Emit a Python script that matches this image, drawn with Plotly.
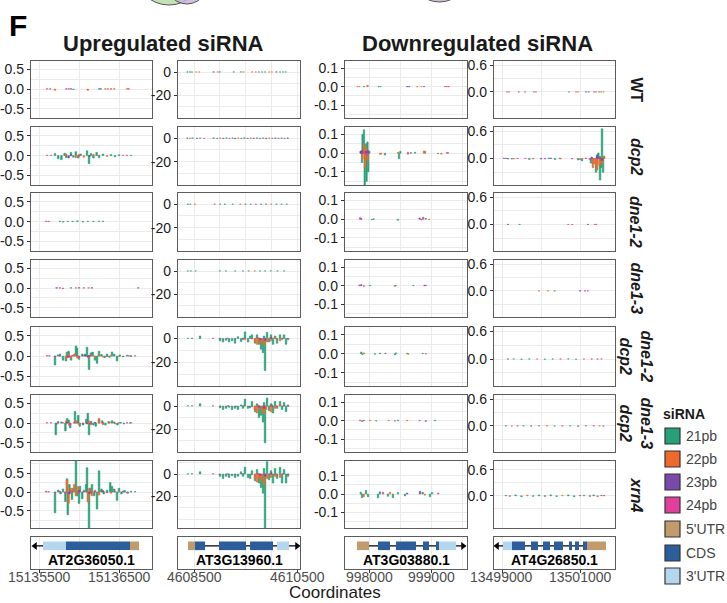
import plotly.graph_objects as go

W, H = 727, 603

# ---------------- data ----------------
SIZES = ["21pb", "22pb", "23pb", "24pb"]
SIZE_COLORS = ["#26a079", "#f0692c", "#7a4aaa", "#e0409c"]
FEATURES = ["5'UTR", "CDS", "3'UTR"]
FEATURE_COLORS = ["#c29b6c", "#2b5e9a", "#b4d6ee"]
GENOTYPES = ["<b>WT</b>", "<b><i>dcp2</i></b>", "<b><i>dne1-2</i></b>", "<b><i>dne1-3</i></b>",
             "<b><i>dne1-2</i></b><br><b><i>dcp2</i></b>", "<b><i>dne1-3</i></b><br><b><i>dcp2</i></b>",
             "<b><i>xrn4</i></b>"]
GENES = ["AT2G36050.1", "AT3G13960.1", "AT3G03880.1", "AT4G26850.1"]
GENE_ORIGIN = [15135000, 4608000, 997000, 13498000]
X_TICKS = [[15135500, 15136500], [4608500, 4610500], [998000, 999000], [13499000, 13501000]]
X_MINOR = [[15136000], [4609000, 4609500, 4610000], [998500, 999500], [13500000]]
Y_TICKS = [[-0.5, 0, 0.5], [-20, 0], [-0.1, 0, 0.1], [0, 0.6]]
Y_TICKTEXT = [["-0.5", "0.0", "0.5"], ["-20", "0"], ["-0.1", "0.0", "0.1"], ["0.0", "0.6"]]
Y_MINOR = [[-0.75, -0.25, 0.25, 0.75], [-40, -30, -10, 10], [-0.15, -0.05, 0.05], [-0.3, 0.3]]

# gene models: (start offset, end offset, feature index)
g1_model = [(550, 837, 2), (837, 1637, 1), (1637, 1750, 0)]
g2_model = [(383, 519, 0), (519, 714, 1), (985, 1510, 1), (1588, 2034, 1), (2112, 2345, 2)]
g3_model = [(790, 984, 0), (1129, 1323, 1), (1419, 1742, 1), (1855, 1952, 1), (2065, 2113, 1), (2113, 2387, 2)]
g4_model = [(1026, 1256, 2), (1256, 1590, 1), (1744, 1923, 1), (2051, 2231, 1), (2333, 2564, 1),
            (2718, 2795, 1), (2872, 2974, 1), (3077, 3179, 1), (3179, 3667, 0)]
g_line = [(450, 1750), (383, 2500), (790, 2500), (872, 3667)]
g_arrow = [(450, "triangle-left"), (2500, "triangle-right"), (2500, "triangle-right"), (872, "triangle-left")]

# siRNA bars per panel: (offset from gene origin, size class index, log fold value)
g1_wt = [(600,3,0.01),(640,3,0.01),(700,1,-0.03),(840,3,0.01),(870,3,0.01),(900,2,0.01),(930,0,-0.01),
         (1110,1,-0.03),(1250,0,0.01),(1270,2,0.01),(1330,1,0.01),(1360,1,0.01),(1400,3,0.01),(1440,1,0.01),
         (1600,1,0.01),(1620,3,0.01)]
g1_dcp2 = [(700,0,0.05),(740,0,-0.08),(780,0,-0.1),(820,0,0.06),(840,0,-0.05),(900,0,0.08),(930,0,-0.04),
           (960,0,0.1),(990,0,-0.06),(1020,0,0.04),(1100,0,0.12),(1125,0,-0.2),(1150,0,0.05),(1180,0,-0.06),
           (1220,0,0.08),(1250,0,-0.05),(1300,0,0.04),(1400,0,0.03),(1450,0,-0.03),(1500,0,0.02),(1650,0,0.01),
           (840,1,0.04),(960,1,-0.05),(1000,1,0.03),(1060,1,-0.04),(1180,1,0.03),(1350,1,-0.02),(1550,1,0.01),
           (870,2,-0.06),(900,2,0.02),(1130,2,-0.02),
           (600,3,0.01),(650,3,0.01),(1000,3,-0.02),(1250,3,0.01),(1600,3,0.01)]
g1_dne12 = [(590,3,0.01),(620,3,0.01),(760,0,0.01),(800,0,-0.01),(860,0,0.01),(920,0,0.01),(980,0,0.02),
            (1050,0,-0.01),(1110,0,0.01),(1180,0,0.01),(1250,0,0.01),(1300,0,0.01)]
g1_dne13 = [(720,2,0.01),(760,3,0.01),(800,3,-0.01),(900,0,0.01),(960,1,0.01),(1000,2,0.01),(1060,3,0.01),
            (1120,1,0.01),(1160,2,0.01),(1740,3,0.01)]
g1_dne12dcp2 = [(700,0,-0.22),(737,0,0.03),(762,0,0.05),(800,0,-0.1),(837,0,-0.12),(850,0,0.1),(870,0,0.12),
                (900,0,-0.1),(940,0,0.04),(962,0,0.25),(975,0,0.2),(1000,0,-0.08),(1040,0,0.05),(1075,0,0.05),
                (1100,0,0.22),(1125,0,-0.33),(1150,0,0.08),(1170,0,0.1),(1200,0,-0.1),(1225,0,-0.18),(1250,0,0.12),
                (1280,0,0.04),(1320,0,-0.04),(1350,0,0.05),(1380,0,-0.03),(1412,0,0.1),(1440,0,0.05),
                (1475,0,-0.12),(1510,0,0.03),(1550,0,-0.02),(1600,0,0.02),(1650,0,-0.01),(1700,0,0.01),
                (840,1,-0.06),(870,1,0.05),(900,1,-0.04),(950,1,0.06),(980,1,-0.05),(1120,1,-0.05),(1150,1,0.04),
                (1200,1,-0.03),(1250,1,0.03),(1300,1,-0.02),(1400,1,0.02),(1500,1,-0.01),
                (860,2,-0.03),(1080,2,0.02),(1110,2,-0.02),(1130,2,0.02),
                (600,3,0.01),(630,3,0.01),(700,3,-0.02),(760,3,0.01),(880,3,-0.03),(920,3,0.02),(1000,3,-0.02),
                (1050,3,0.01),(1350,3,-0.01),(1620,3,0.01),(1650,3,0.01)]
g1_dne13dcp2 = [(710,0,-0.3),(740,0,0.04),(780,0,0.03),(830,0,-0.2),(850,0,0.12),(870,0,0.08),(890,0,-0.12),
                (950,0,0.3),(970,0,0.05),(990,0,0.2),(1010,0,-0.08),(1050,0,-0.05),(1090,0,0.1),(1110,0,0.25),
                (1125,0,-0.3),(1150,0,0.05),(1180,0,-0.05),(1210,0,-0.08),(1250,0,0.1),(1290,0,0.06),
                (1330,0,-0.05),(1370,0,0.04),(1412,0,0.06),(1440,0,0.03),(1480,0,-0.05),(1520,0,0.02),
                (1560,0,-0.02),(1640,0,0.01),
                (840,1,0.05),(880,1,-0.06),(960,1,0.06),(1000,1,-0.04),(1120,1,0.06),(1150,1,-0.04),
                (1250,1,0.12),(1300,1,-0.04),(1380,1,0.03),(1450,1,-0.02),
                (850,2,0.02),(1100,2,-0.02),(1200,2,0.02),
                (600,3,0.01),(650,3,0.01),(720,3,-0.03),(800,3,0.01),(890,3,-0.04),(940,3,0.02),(1050,3,-0.02),
                (1150,3,-0.02),(1300,3,0.01),(1500,3,0.01),(1600,3,0.01),(1650,3,0.01)]
g1_xrn4 = [(700,0,-0.55),(740,0,0.05),(770,0,-0.05),(800,0,0.08),(830,0,-0.25),(850,0,0.35),(860,0,-0.6),
           (880,0,0.2),(912,0,-0.2),(925,0,0.1),(962,0,0.82),(975,0,-0.1),(1000,0,-0.3),(1012,0,0.15),
           (1040,0,-0.18),(1062,0,0.05),(1090,0,0.2),(1100,0,0.64),(1125,0,-0.95),(1140,0,0.1),(1162,0,0.2),
           (1190,0,-0.1),(1225,0,-0.45),(1250,0,0.56),(1280,0,0.08),(1310,0,-0.05),(1350,0,0.05),(1390,0,0.25),
           (1412,0,0.15),(1440,0,0.08),(1475,0,-0.22),(1500,0,0.1),(1530,0,-0.05),(1570,0,0.04),(1610,0,-0.03),
           (1650,0,0.02),(1700,0,0.01),
           (850,1,0.32),(870,1,-0.3),(900,1,0.1),(940,1,0.2),(960,1,-0.1),(990,1,0.15),(1110,1,-0.26),
           (1130,1,0.1),(1160,1,-0.1),(1200,1,0.05),(1250,1,-0.08),(1300,1,0.04),(1400,1,-0.03),(1500,1,0.02),
           (880,2,-0.05),(1000,2,0.04),(1130,2,-0.04),(1300,2,0.03),(1550,2,0.02),
           (590,3,0.02),(620,3,0.01),(700,3,-0.02),(760,3,0.02),(830,3,-0.03),(900,3,0.03),(1000,3,-0.02),
           (1060,3,0.02),(1150,3,-0.03),(1200,3,0.02),(1350,3,-0.02),(1450,3,0.02),(1600,3,-0.02)]

g2_wt = [(370,0,0.1),(420,0,0.1),(460,0,0.1),(540,1,0.1),(600,1,0.1),(880,2,0.1),(960,1,0.1),(1000,0,0.1),
         (1270,0,0.1),(1410,0,0.1),(1460,1,0.1),(1630,1,0.1),(1700,1,0.1),(1760,0,0.1),(1820,0,0.1),
         (1880,0,0.1),(1960,1,0.1),(2010,1,0.1),(2100,2,0.1),(2170,0,0.1),(2230,0,0.1),(2280,0,0.1)]
g2_dcp2 = [(370,0,0.2),(420,1,-0.2),(470,0,0.3),(560,2,-0.2),(620,0,0.2),(700,3,-0.2),(880,2,0.2),(950,0,-0.3),
           (1010,1,0.2),(1070,2,-0.2),(1130,0,0.3),(1190,3,-0.2),(1250,0,0.2),(1300,2,-0.3),(1360,1,0.2),
           (1420,0,-0.2),(1480,2,0.3),(1540,0,-0.2),(1600,1,0.2),(1660,2,-0.2),(1720,0,0.3),(1780,3,-0.2),
           (1840,0,0.2),(1900,2,-0.3),(1960,1,0.2),(2020,0,-0.2),(2080,2,0.2),(2140,0,-0.2),(2200,3,0.2),
           (2260,0,-0.2),(2320,2,0.2)]
g2_dne12 = [(380,0,0.1),(430,0,0.1),(520,1,0.1),(900,3,0.1),(1010,0,0.1),(1100,0,0.1),(1250,0,0.1),
            (1400,1,0.1),(1500,0,0.1),(1600,0,0.1),(1700,3,0.1),(1800,0,0.1),(1900,0,0.1),(2000,1,0.1),
            (2100,0,0.1),(2200,0,0.1),(2300,0,0.1)]
g2_dne13 = [(380,0,0.1),(440,0,0.1),(530,0,0.1),(1000,0,0.1),(1120,0,0.1),(1300,0,0.1),(1450,0,0.1),
            (1560,0,0.1),(1680,1,0.1),(1780,0,0.1),(1880,0,0.1),(1990,0,0.1),(2120,0,0.1),(2250,0,0.1)]
g2_dne12dcp2 = [(383,0,0.2),(461,0,0.3),(617,0,2),(1005,0,-2),(1063,0,-3),(1121,0,-1.5),(1180,0,-3),
                (1238,0,-2),(1296,0,-4),(1354,0,1.5),(1413,0,-2.5),(1452,0,-1),(1490,0,5.5),(1549,0,-3),
                (1588,0,2),(1626,0,3),(1685,0,-4),(1723,0,3),(1762,0,-5),(1801,0,-9),(1840,0,-12),(1859,0,2),
                (1879,0,-27),(1918,0,5),(1956,0,-3),(1995,0,3),(2034,0,-5),(2073,0,2),(2112,0,-4),(2170,0,3),
                (2209,0,-1),(2248,0,3),(2287,0,-5),(2325,0,-1),
                (1490,1,-1),(1685,1,-3),(1723,1,-5),(1762,1,-2),(1801,1,-4),(1859,1,-6),(1918,1,-3),
                (1995,1,-2),(2073,1,1),(2170,1,-2),
                (1780,2,-1),(1880,2,-1.5),(2000,2,1),
                (869,3,0.2),(1000,3,-0.3),(1150,3,0.3),(1300,3,-0.3),(1450,3,0.3),(1620,3,-0.5),(1740,3,0.5),
                (1860,3,-0.5),(1980,3,0.4),(2100,3,-0.3),(2230,3,0.3),(2330,3,-0.2)]
g2_dne13dcp2 = [(383,0,0.2),(461,0,0.3),(617,0,2),(1005,0,-1.5),(1063,0,-3),(1121,0,-2),(1180,0,-1),
                (1238,0,-3),(1296,0,-2),(1354,0,-3),(1413,0,1),(1452,0,-2),(1490,0,6),(1549,0,-2),
                (1588,0,-1.5),(1626,0,4),(1685,0,-5),(1723,0,2),(1762,0,-10),(1801,0,-8),(1840,0,-14),
                (1859,0,3),(1879,0,-32),(1918,0,7),(1956,0,-4),(1995,0,2),(2034,0,-6),(2073,0,4),(2112,0,-2),
                (2170,0,4),(2209,0,-3),(2248,0,3),(2287,0,-5),(2325,0,1),
                (1680,1,-3),(1720,1,-6),(1760,1,-2),(1820,1,-4),(1859,1,-7),(1900,1,-3),(1995,1,-5),
                (2073,1,-2),(2170,1,1),
                (1760,2,-1),(1860,2,-2),(2010,2,1),
                (869,3,0.2),(1010,3,-0.3),(1160,3,0.3),(1310,3,-0.3),(1460,3,0.3),(1630,3,-0.5),(1750,3,0.5),
                (1870,3,-0.5),(1990,3,0.4),(2110,3,-0.3),(2240,3,0.3),(2330,3,-0.2)]
g2_xrn4 = [(383,0,0.2),(461,0,0.3),(617,0,2),(1005,0,-2),(1063,0,-4),(1121,0,-2),(1180,0,-3),(1238,0,-1.5),
           (1296,0,-3),(1354,0,-2),(1413,0,2),(1452,0,-2),(1490,0,6),(1549,0,-3),(1588,0,-4),(1626,0,3),
           (1685,0,-6),(1723,0,4),(1762,0,-8),(1801,0,-12),(1840,0,-17),(1859,0,5),(1879,0,-48),(1918,0,11),
           (1956,0,-5),(1995,0,3),(2034,0,-8),(2073,0,5),(2112,0,-4),(2170,0,6),(2209,0,-8),(2248,0,4),
           (2287,0,-8),(2325,0,-2),
           (1685,1,-4),(1723,1,-7),(1762,1,-3),(1801,1,-6),(1859,1,-10),(1918,1,-4),(1995,1,-3),(2073,1,-2),
           (2170,1,-3),
           (1780,2,-1),(1880,2,-2),(2000,2,1),
           (869,3,0.3),(1000,3,-0.3),(1150,3,0.3),(1300,3,-0.4),(1450,3,0.3),(1620,3,-0.5),(1740,3,0.5),
           (1860,3,-0.6),(1980,3,0.5),(2100,3,-0.4),(2230,3,0.3),(2330,3,-0.3)]

g3_wt = [(800,1,0.001),(830,1,0.001),(900,0,0.001),(960,1,0.008),(1140,0,0.001),(1170,0,0.001),(1600,2,0.001),
         (1630,2,0.001),(1760,1,0.001),(1830,1,0.001),(1870,2,0.001),(2210,3,0.001),(2240,3,0.001),(2270,3,0.001)]
g3_dcp2 = [(850,0,0.01),(871,0,-0.05),(880,0,0.1),(903,0,0.125),(915,0,-0.17),(935,0,0.05),(945,0,-0.15),
           (960,0,0.06),(972,0,-0.1),(990,0,0.01),(1242,0,-0.01),(1468,0,-0.03),(1490,0,0.01),(1613,0,-0.005),
           (1726,0,0.005),(1887,0,0.01),(2097,0,-0.003),
           (880,1,-0.03),(903,1,0.05),(920,1,-0.08),(940,1,0.03),(960,1,-0.04),(1161,1,-0.005),(1180,1,-0.005),
           (1452,1,0.005),(1613,1,0.005),(1870,1,0.012),(2150,1,-0.005),
           (850,2,0.01),(870,2,0.015),(935,2,0.01),(968,2,0.015),(1660,2,0.003),
           (900,3,0.01),(950,3,-0.01),(2240,3,0.003),(2260,3,0.003)]
g3_dne12 = [(840,3,0.008),(860,2,0.004),(1030,0,-0.003),(1060,0,0.002),(1450,0,-0.006),(1800,2,0.006),
            (1830,3,-0.004),(1860,3,0.01),(1900,0,0.004),(1950,1,-0.003)]
g3_dne13 = [(830,3,0.004),(860,2,0.006),(900,3,-0.003),(1000,0,0.002),(1400,0,-0.003),(1420,1,0.002),
            (1700,0,0.002),(1880,2,0.003),(1900,3,0.003)]
g3_dne12dcp2 = [(860,0,0.008),(880,0,-0.004),(900,1,0.004),(1080,0,-0.003),(1161,0,0.003),(1250,2,0.002),
                (1403,0,-0.006),(1420,0,0.004),(1600,0,0.002),(1620,1,-0.003),(1850,0,0.002),(1900,3,-0.002)]
g3_dne13dcp2 = [(840,1,0.004),(870,3,-0.004),(900,0,0.003),(1000,1,0.002),(1100,0,-0.002),(1300,1,0.002),
                (1403,3,-0.002),(1450,0,0.003),(1600,1,0.003),(1800,3,0.002),(1900,2,-0.003),(2050,0,0.003)]
g3_xrn4 = [(850,0,0.01),(871,0,-0.02),(900,1,-0.015),(935,0,0.02),(968,0,-0.015),(1129,0,-0.02),(1160,0,0.012),
           (1210,3,0.01),(1290,0,-0.012),(1323,1,0.01),(1370,0,-0.02),(1452,0,0.008),(1565,0,-0.01),
           (1600,2,0.005),(1807,2,0.015),(1850,0,0.01),(1887,1,-0.006),(1968,0,-0.015),(2000,0,0.008),
           (2100,3,0.005)]

g4_wt = [(1130,3,0.002),(1180,3,0.002),(1430,3,0.002),(1590,3,0.002),(1820,3,0.002),(1870,3,0.002),
         (2720,0,0.002),(2900,1,0.002),(2950,1,0.002),(3150,2,0.002),(3220,2,0.002),(3360,3,0.002),
         (3410,3,0.002),(3490,0,0.002),(3540,1,0.002),(3600,1,0.002)]
g4_dcp2 = [(1100,0,0.005),(1250,0,-0.01),(1700,0,-0.02),(2200,0,0.01),(2360,0,-0.02),(2480,0,0.01),
           (2950,0,-0.03),(3050,0,-0.05),(3280,0,-0.1),(3330,0,-0.12),(3410,0,-0.3),(3440,0,0.08),
           (3470,0,0.12),(3513,0,-0.47),(3540,0,-0.2),(3564,0,0.65),(3590,0,-0.3),(3620,0,0.05),
           (1300,1,-0.01),(1800,1,-0.01),(2500,1,-0.01),(3000,1,-0.02),(3330,1,-0.2),(3385,1,-0.12),
           (3440,1,-0.25),(3500,1,-0.15),(3564,1,-0.1),(3600,1,0.05),
           (1150,2,-0.01),(2000,2,-0.01),(2250,2,0.01),(3300,2,0.03),(3440,2,0.06),(3513,2,0.04),(3560,2,-0.04),
           (1050,3,0.01),(1400,3,0.005),(1600,3,0.005),(2100,3,-0.01),(2800,3,-0.01),(3150,3,0.01),(3250,3,-0.02)]
g4_dne12 = [(1150,2,0.003),(1450,0,0.003),(2700,3,0.003),(2800,3,-0.003),(3200,2,0.003),(3380,3,0.003),
            (3420,1,0.003)]
g4_dne13 = [(1950,1,0.003),(2180,1,0.003),(2350,0,0.003),(3000,2,0.003),(3130,3,0.003),(3200,3,0.003)]
g4_dne12dcp2 = [(1150,2,0.003),(1300,0,0.003),(1500,0,-0.005),(1700,0,0.003),(1900,1,0.003),(2100,0,-0.004),
                (2300,0,0.003),(2500,3,0.003),(2700,0,0.005),(2900,0,-0.003),(3100,3,0.003),(3300,3,0.004),
                (3450,3,0.004),(3550,1,0.003)]
g4_dne13dcp2 = [(1100,0,0.003),(1250,1,-0.003),(1400,3,0.003),(1550,0,0.003),(1750,2,-0.003),(1950,0,0.003),
                (2150,1,0.004),(2350,0,-0.003),(2550,3,0.003),(2750,0,0.003),(2950,2,-0.004),(3150,0,0.003),
                (3350,3,0.005),(3500,1,0.003),(3600,0,-0.003)]
g4_xrn4 = [(1100,0,0.01),(1200,3,-0.01),(1350,0,0.02),(1500,0,-0.02),(1650,1,0.015),(1800,0,-0.01),
           (1950,0,0.02),(2100,2,-0.01),(2250,0,0.02),(2400,0,-0.015),(2550,1,0.01),(2700,0,0.02),
           (2850,0,-0.02),(3000,3,0.01),(3100,0,0.015),(3250,2,-0.01),(3350,0,0.02),(3450,1,-0.02),
           (3550,0,0.01),(3620,3,0.01)]

PANELS = [
    [g1_wt, g2_wt, g3_wt, g4_wt],
    [g1_dcp2, g2_dcp2, g3_dcp2, g4_dcp2],
    [g1_dne12, g2_dne12, g3_dne12, g4_dne12],
    [g1_dne13, g2_dne13, g3_dne13, g4_dne13],
    [g1_dne12dcp2, g2_dne12dcp2, g3_dne12dcp2, g4_dne12dcp2],
    [g1_dne13dcp2, g2_dne13dcp2, g3_dne13dcp2, g4_dne13dcp2],
    [g1_xrn4, g2_xrn4, g3_xrn4, g4_xrn4],
]
MODELS = [g1_model, g2_model, g3_model, g4_model]

# ---------------- layout geometry ----------------
X_RANGE = [[15135400, 15136912], [4608189, 4610558], [997597, 999565], [13498795, 13501897]]
Y_RANGE = [[-0.74, 0.72], [-40, 9.6], [-0.17, 0.14], [-0.58, 0.69]]
Y_RANGE_LAST = [[-0.95, 0.82], [-48, 11.6], [-0.185, 0.18], [-0.74, 0.8]]
BAR_WIDTH = [20, 30, 22, 40]
COL_PX = [(31, 152), (178, 300), (345, 467), (494, 615)]
ROW_PX = [(61, 118), (127, 185), (193, 251), (260, 317), (327, 386), (395, 452), (461, 528), (537, 569)]

FONT = "Liberation Sans, Arial, sans-serif"
GRID = "#ebebeb"
BORDER = "#5c5c5c"


def fx(px):
    return px / W


def fy(px):
    return 1 - px / H


def text(t, x, y, size, color="#1a1a1a", xanchor="center", angle=0):
    return dict(text=t, xref="paper", yref="paper", x=fx(x), y=fy(y), xanchor=xanchor,
                yanchor="middle", showarrow=False, textangle=angle,
                font=dict(size=size, color=color, family=FONT))


fig = go.Figure()
layout = dict(
    width=W, height=H, margin=dict(l=0, r=0, t=0, b=0, pad=0, autoexpand=False),
    paper_bgcolor="white", plot_bgcolor="white", showlegend=False,
    barmode="overlay", font=dict(family=FONT, color="#1a1a1a"),
)
shapes = []
annotations = []

for r in range(8):
    for c in range(4):
        n = r * 4 + c + 1
        xa = "x" if n == 1 else f"x{n}"
        ya = "y" if n == 1 else f"y{n}"
        xkey = "xaxis" if n == 1 else f"xaxis{n}"
        ykey = "yaxis" if n == 1 else f"yaxis{n}"
        gene_row = (r == 7)
        layout[xkey] = dict(
            domain=[fx(COL_PX[c][0]), fx(COL_PX[c][1])], anchor=ya, automargin=False,
            range=X_RANGE[c], tickmode="array", tickvals=X_TICKS[c],
            showticklabels=False, ticks="outside" if gene_row else "",
            ticklen=3, tickcolor="#333",
            showgrid=True, gridcolor=GRID, gridwidth=1,
            minor=dict(tickvals=X_MINOR[c], showgrid=True, gridcolor=GRID, gridwidth=0.8),
            showline=True, mirror=True, linecolor=BORDER, linewidth=1.3, zeroline=False,
        )
        if gene_row:
            layout[ykey] = dict(
                domain=[fy(ROW_PX[r][1]), fy(ROW_PX[r][0])], anchor=xa, range=[0, 1], automargin=False,
                showticklabels=False, ticks="", showgrid=False, zeroline=False,
                showline=True, mirror=True, linecolor=BORDER, linewidth=1.3,
            )
            # x tick labels of the bottom axis, placed on the axis' own data scale
            for v in X_TICKS[c]:
                annotations.append(dict(text=str(v), xref=xa, yref="paper", x=v, y=fy(577),
                                        xanchor="center", yanchor="middle", showarrow=False,
                                        font=dict(size=14, color="#4d4d4d", family=FONT)))
        else:
            yr = Y_RANGE_LAST[c] if r == 6 else Y_RANGE[c]
            layout[ykey] = dict(
                domain=[fy(ROW_PX[r][1]), fy(ROW_PX[r][0])], anchor=xa, range=yr, automargin=False,
                tickmode="array", tickvals=Y_TICKS[c], ticktext=Y_TICKTEXT[c],
                ticks="outside", ticklen=3, tickcolor="#333",
                tickfont=dict(size=14, color="#1a1a1a", family=FONT),
                showgrid=True, gridcolor=GRID, gridwidth=1,
                minor=dict(tickvals=Y_MINOR[c], showgrid=True, gridcolor=GRID, gridwidth=0.8),
                showline=True, mirror=True, linecolor=BORDER, linewidth=1.3, zeroline=False,
            )

        if not gene_row:
            data = PANELS[r][c]
            for k in range(4):
                pts = [(o, v) for (o, cls, v) in data if cls == k]
                if not pts:
                    continue
                fig.add_trace(go.Bar(
                    x=[GENE_ORIGIN[c] + o for o, v in pts], y=[v for o, v in pts],
                    width=BAR_WIDTH[c], name=SIZES[k],
                    marker=dict(color=SIZE_COLORS[k], line=dict(color=SIZE_COLORS[k], width=0.6)),
                    xaxis=xa, yaxis=ya, showlegend=False, hoverinfo="skip",
                ))
        else:
            s, e = g_line[c]
            fig.add_trace(go.Scatter(
                x=[GENE_ORIGIN[c] + s, GENE_ORIGIN[c] + e], y=[0.72, 0.72], mode="lines",
                line=dict(color="black", width=1.2), xaxis=xa, yaxis=ya, hoverinfo="skip"))
            apos, asym = g_arrow[c]
            fig.add_trace(go.Scatter(
                x=[GENE_ORIGIN[c] + apos], y=[0.72], mode="markers",
                marker=dict(symbol=asym, size=7, color="black"), xaxis=xa, yaxis=ya, hoverinfo="skip"))
            for (fs, fe, fi) in MODELS[c]:
                shapes.append(dict(type="rect", xref=xa, yref=ya,
                                   x0=GENE_ORIGIN[c] + fs, x1=GENE_ORIGIN[c] + fe, y0=0.59, y1=0.86,
                                   fillcolor=FEATURE_COLORS[fi], line=dict(width=0), layer="above"))
            annotations.append(dict(text=f"<b>{GENES[c]}</b>", xref=f"{xa} domain", yref=ya,
                                    x=0.5, y=0.28, xanchor="center", yanchor="middle", showarrow=False,
                                    font=dict(size=14, color="black", family=FONT)))

# row labels
for r in range(7):
    yc = (ROW_PX[r][0] + ROW_PX[r][1]) / 2
    annotations.append(text(GENOTYPES[r], 636, yc, 16, angle=90))

# titles and axis title
annotations += [
    text("<b>F</b>", 7, 25, 30, color="black", xanchor="left"),
    text("<b>Upregulated siRNA</b>", 163, 43, 22),
    text("<b>Downregulated siRNA</b>", 477, 43, 22),
    text("Coordinates", 335, 592, 17),
    text("<b>siRNA</b>", 661, 414, 14, xanchor="left"),
]

# legend keys
legend_labels = SIZES + FEATURES
legend_colors = SIZE_COLORS + FEATURE_COLORS
key_tops = [428, 451, 474, 497, 521, 545, 568]
for lab, colr, kt in zip(legend_labels, legend_colors, key_tops):
    shapes.append(dict(type="rect", xref="paper", yref="paper", x0=fx(665), x1=fx(680),
                       y0=fy(kt + 16), y1=fy(kt), fillcolor=colr, line=dict(color="#333", width=1.2)))
    annotations.append(text(lab, 684, kt + 8, 14, color="#444", xanchor="left"))

# partial venn diagrams at the top edge (from the previous figure panel)
shapes += [
    dict(type="circle", xref="paper", yref="paper", x0=fx(133), x1=fx(205), y0=fy(5), y1=fy(-70),
         fillcolor="#c4e3b4", line=dict(color="#555", width=1)),
    dict(type="circle", xref="paper", yref="paper", x0=fx(160), x1=fx(214), y0=fy(4), y1=fy(-70),
         fillcolor="rgba(200,180,220,0.85)", line=dict(color="#555", width=1)),
    dict(type="circle", xref="paper", yref="paper", x0=fx(407), x1=fx(472), y0=fy(2), y1=fy(-70),
         fillcolor="#cdbbdc", line=dict(color="#555", width=1)),
]

layout["shapes"] = shapes
layout["annotations"] = annotations
fig.update_layout(**layout)
fig.write_html("out.html", config={"displayModeBar": False},
               post_script="document.body.style.margin='0';document.body.style.padding='0';")
